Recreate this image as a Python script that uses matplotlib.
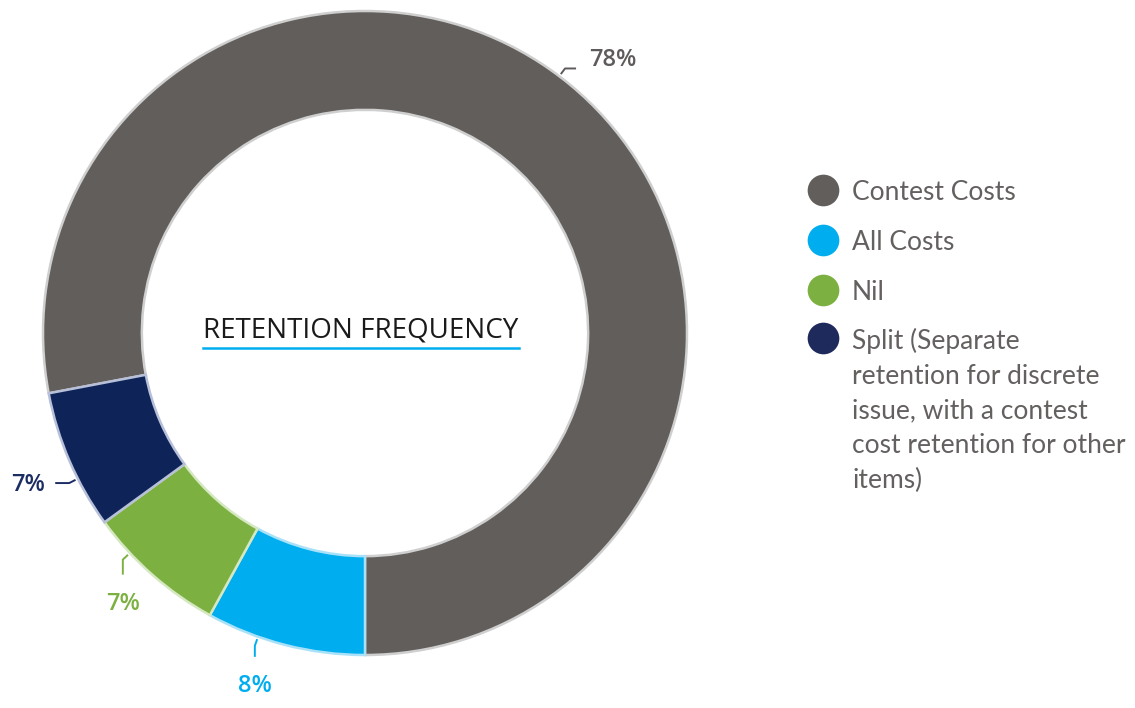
import numpy as np
import matplotlib
matplotlib.use("Agg")
import matplotlib.pyplot as plt

categories = ["Contest Costs", "All Costs", "Nil",
              "Split (Separate\nretention for discrete\nissue, with a contest\ncost retention for other\nitems)"]
shares = [78, 8, 7, 7]
pct_labels = ["78%", "8%", "7%", "7%"]
fills = ["#625e5c", "#00aeef", "#7cb142", "#0e2459"]
edges = ["#cfcfcf", "#a9e2f8", "#d6e8c2", "#b7c0d8"]
legend_dots = ["#625e5c", "#00aeef", "#7cb142", "#1f2a5c"]
label_colors = ["#5f5b5a", "#00aeef", "#7cb142", "#1b2d63"]
leader_dir = ["right", "down", "down", "left"]
leader_nudge = [2.5, -5, -5.5, 3.5]   # degrees, keeps labels clear of each other
leader_drop = [0, 11, 15, 0]

W, H = 1135, 708
fig = plt.figure(figsize=(W / 100, H / 100), dpi=100)
ax = fig.add_axes([0, 0, 1, 1])

cx, cy, R = 365, H - 333, 322
ring = 0.307

# ring drawn clockwise so that the big slice ends at six o'clock
start = 270 + 3.6 * shares[0]
wedges, _ = ax.pie(shares, colors=fills, startangle=start, counterclock=False,
                   center=(cx, cy), radius=R,
                   wedgeprops=dict(width=R * ring, linewidth=1.8))
for w, ec in zip(wedges, edges):
    w.set_edgecolor(ec)

# percentage labels with short leader lines
for w, txt, col, d, nd, dl in zip(wedges, pct_labels, label_colors,
                                  leader_dir, leader_nudge, leader_drop):
    mid = np.deg2rad((w.theta1 + w.theta2) / 2 + nd)
    x0, y0 = cx + R * 1.008 * np.cos(mid), cy + R * 1.008 * np.sin(mid)
    x1, y1 = cx + R * 1.03 * np.cos(mid), cy + R * 1.03 * np.sin(mid)
    if d == "right":
        x2, y2 = x1 + 11, y1
        tx, ty, ha, va = x2 + 13, y2 + 2, "left", "baseline"
    elif d == "left":
        x2, y2 = x1 - 14, y1
        tx, ty, ha, va = x2 - 10, y2 - 2, "right", "center"
    else:
        x2, y2 = x1, y1 - dl
        tx, ty, ha, va = x2, y2 - 17, "center", "top"
    ax.plot([x0, x1, x2], [y0, y1, y2], color=col, lw=1.4, solid_capstyle="butt")
    ax.text(tx, ty, txt, color=col, fontsize=17, family="Open Sans",
            fontweight="semibold", ha=ha, va=va)

# centre title with blue rule
ax.text(cx - 4, H - 331, "RETENTION FREQUENCY", fontsize=20, family="Open Sans",
        color="#1a1a1a", ha="center", va="center")
ax.plot([203, 519], [H - 348, H - 348], color="#00aeef", lw=1.8)

# legend
ly = [190, 240, 290, 338]
for y, lab, col in zip(ly, categories, legend_dots):
    ax.scatter([823], [H - y], s=520, color=col, linewidths=0)
    ax.text(852, H - y + 10, lab, fontsize=19, family="Lato", color="#63605f",
            ha="left", va="top", linespacing=1.48)

ax.set_xlim(0, W)
ax.set_ylim(0, H)
ax.set_aspect("equal")
ax.axis("off")

fig.savefig("out.png", dpi=100)
